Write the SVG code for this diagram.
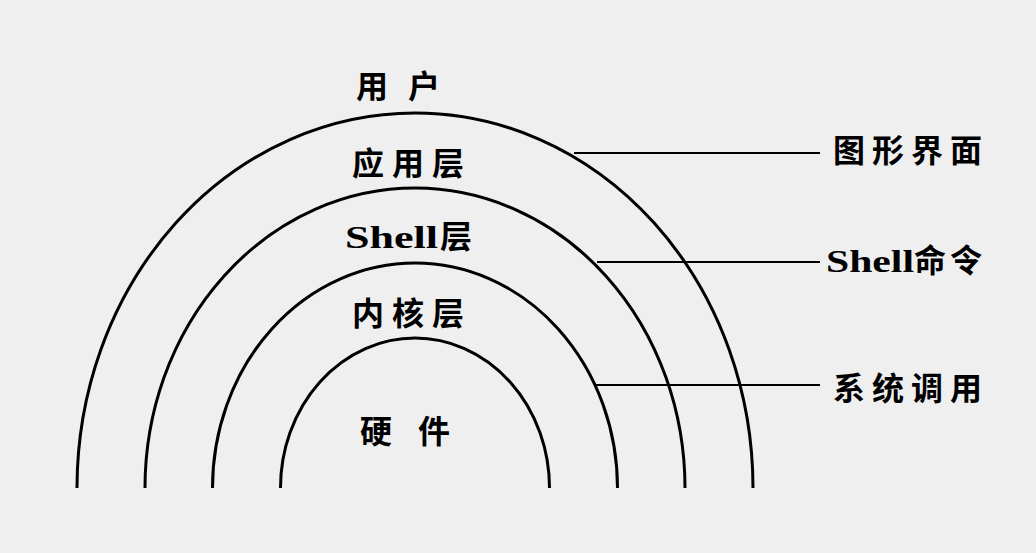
<svg xmlns="http://www.w3.org/2000/svg" width="1036" height="553" viewBox="0 0 1036 553">
<style>
.a{fill:none;stroke:#000;stroke-width:3}
.l{stroke:#000;stroke-width:2}
text{font-family:"Liberation Serif","Noto Sans CJK SC",serif;font-weight:bold;font-size:32px;fill:#000}
.c{text-anchor:middle}
</style>
<rect width="1036" height="553" fill="#efefef"/>
<g id="layers">
<path class="a" d="M77,488 A338,375 0 0 1 753,488"/>
<path class="a" d="M145,488 A270,300 0 0 1 685,488"/>
<path class="a" d="M212.5,488 A202.5,225 0 0 1 617.5,488"/>
<path class="a" d="M280.5,488 A134.5,150 0 0 1 549.5,488"/>
</g>
<g id="connectors">
<line class="l" x1="574" y1="153" x2="820" y2="153"/>
<line class="l" x1="597" y1="262" x2="820" y2="262"/>
<line class="l" x1="596" y1="385" x2="820" y2="385"/>
</g>
<g id="labels">
<text class="c" x="408" y="98" letter-spacing="20">用户</text>
<text class="c" x="412" y="175" letter-spacing="8">应用层</text>
<text x="345" y="248" font-size="44" textLength="93" lengthAdjust="spacingAndGlyphs">Shell</text>
<text x="440" y="248">层</text>
<text class="c" x="412" y="325" letter-spacing="8">内核层</text>
<text class="c" x="418" y="443" letter-spacing="26">硬件</text>
<text x="833" y="162" letter-spacing="7">图形界面</text>
<text x="826" y="272" font-size="44" textLength="88" lengthAdjust="spacingAndGlyphs">Shell</text>
<text x="914" y="272" letter-spacing="4">命令</text>
<text x="833" y="400" letter-spacing="7">系统调用</text>
</g>
</svg>
